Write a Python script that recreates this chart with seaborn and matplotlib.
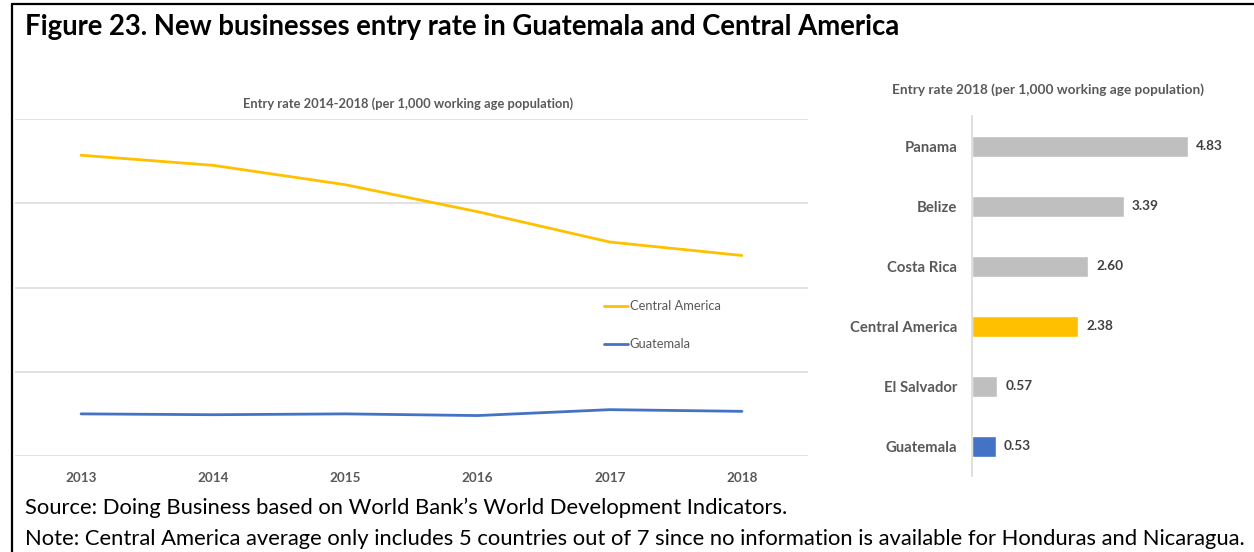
import matplotlib
matplotlib.use("Agg")
import matplotlib.pyplot as plt
from matplotlib.lines import Line2D
import numpy as np
import pandas as pd
import seaborn as sns

# ---- data -------------------------------------------------------------
years = [2013, 2014, 2015, 2016, 2017, 2018]
central_america = [3.57, 3.45, 3.22, 2.90, 2.54, 2.38]
guatemala = [0.50, 0.49, 0.50, 0.48, 0.55, 0.53]

countries = ["Panama", "Belize", "Costa Rica", "Central America", "El Salvador", "Guatemala"]
entry_2018 = [4.83, 3.39, 2.60, 2.38, 0.57, 0.53]

title = "Figure 23. New businesses entry rate in Guatemala and Central America"
line_title = "Entry rate 2014-2018 (per 1,000 working age population)"
bar_title = "Entry rate 2018 (per 1,000 working age population)"
source = "Source: Doing Business based on World Bank\u2019s World Development Indicators."
note = ("Note: Central America average only includes 5 countries out of 7 since no "
        "information is available for Honduras and Nicaragua.")

# ---- style ------------------------------------------------------------
YELLOW = "#FFC000"
BLUE = "#4472C4"
GREY_BAR = "#BFBFBF"
TEXT_GREY = "#595959"
GRID = "#D9D9D9"

sns.set_theme(style="white")
plt.rcParams["font.family"] = ["Lato", "DejaVu Sans"]

W, H = 1254, 552
fig = plt.figure(figsize=(W / 100, H / 100), dpi=100)
fig.patch.set_facecolor("white")


def fx(px):
    return px / W


def fy(py):
    return 1 - py / H


# ---- line chart -------------------------------------------------------
df_line = pd.DataFrame({
    "year": years * 2,
    "rate": central_america + guatemala,
    "region": ["Central America"] * len(years) + ["Guatemala"] * len(years),
})

ax1 = fig.add_axes([fx(15), fy(456), fx(808) - fx(15), fy(119) - fy(456)])
sns.lineplot(data=df_line, x="year", y="rate", hue="region",
             palette={"Central America": YELLOW, "Guatemala": BLUE},
             linewidth=2.0, ax=ax1, legend=False)
ax1.set_xlim(2012.5, 2018.5)
ax1.set_ylim(0, 4)
ax1.set_yticks([0, 1, 2, 3, 4])
ax1.set_yticklabels([])
ax1.set_xticks(years)
ax1.set_xticklabels([str(y) for y in years], fontsize=9.7, fontweight="bold",
                    color=TEXT_GREY)
ax1.tick_params(axis="both", length=0)
ax1.tick_params(axis="x", pad=11.5)
ax1.grid(axis="y", color=GRID, linewidth=1.1)
ax1.set_axisbelow(True)
for s in ax1.spines.values():
    s.set_visible(False)
ax1.set_xlabel("")
ax1.set_ylabel("")

handles = [Line2D([], [], color=YELLOW, lw=2.0), Line2D([], [], color=BLUE, lw=2.0)]
leg = ax1.legend(handles, ["Central America", "Guatemala"], loc="upper left",
                 bbox_to_anchor=(fx(604), fy(300.5)), bbox_transform=fig.transFigure,
                 frameon=False, borderpad=0, borderaxespad=0, fontsize=9.3,
                 handlelength=1.85, handletextpad=0.15, labelspacing=2.0)
for t in leg.get_texts():
    t.set_color(TEXT_GREY)

fig.text(fx(408), fy(104), line_title, ha="center", va="center", fontsize=9.3,
         fontweight="bold", color=TEXT_GREY)

# ---- bar chart --------------------------------------------------------
ax2 = fig.add_axes([fx(972), fy(476), fx(1240) - fx(972), fy(116) - fy(476)])
bar_colors = {c: GREY_BAR for c in countries}
bar_colors["Central America"] = YELLOW
bar_colors["Guatemala"] = BLUE
sns.barplot(x=entry_2018, y=countries, hue=countries, palette=bar_colors,
            orient="h", width=0.35, legend=False, saturation=1, ax=ax2)
ax2.set_xlim(0, 268 / 44.7)
ax2.set_ylim(5.5, -0.5)
ax2.set_xticks([])
ax2.tick_params(axis="y", length=0, pad=10.5)
for lbl in ax2.get_yticklabels():
    lbl.set_fontsize(10.7)
    lbl.set_fontweight("bold")
    lbl.set_color(TEXT_GREY)
for name, s in ax2.spines.items():
    s.set_visible(name == "left")
ax2.spines["left"].set_color(GRID)
ax2.spines["left"].set_linewidth(1.2)
for cont in ax2.containers:
    ax2.bar_label(cont, fmt="%.2f", padding=6, fontsize=9.8, fontweight="bold",
                  color="#404040")
ax2.set_xlabel("")
ax2.set_ylabel("")

fig.text(fx(1048), fy(89.5), bar_title, ha="center", va="center", fontsize=9.8,
         fontweight="bold", color=TEXT_GREY)

# ---- titles, notes and frame -----------------------------------------
fig.text(fx(25), fy(27), title, ha="left", va="center", fontsize=19.8,
         fontweight="bold", color="black")
fig.text(fx(25), fy(508), source, ha="left", va="center", fontsize=15.85,
         color="black")
fig.text(fx(25), fy(539), note, ha="left", va="center", fontsize=15.85,
         color="black")

fig.add_artist(Line2D([fx(12), fx(12)], [0, fy(4)], color="black", lw=1.6))
fig.add_artist(Line2D([fx(12), 1], [fy(4), fy(4)], color="black", lw=1.6))

fig.savefig("out.png", dpi=100, facecolor="white")
